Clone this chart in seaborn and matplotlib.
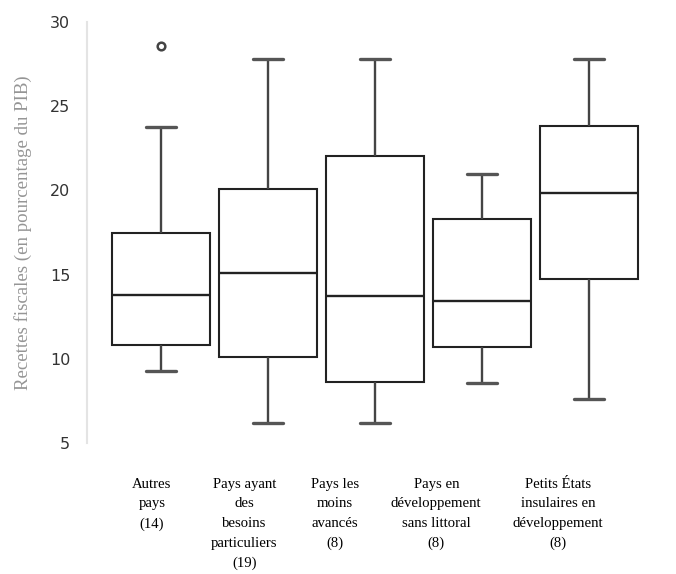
import numpy as np
import pandas as pd
import matplotlib
matplotlib.use("Agg")
import matplotlib.pyplot as plt
import matplotlib.transforms as mtrans
import seaborn as sns

# ---- data ----
categories = [
    "Autres\npays\n(14)",
    "Pays ayant\ndes\nbesoins\nparticuliers\n(19)",
    "Pays les\nmoins\navancés\n(8)",
    "Pays en\ndéveloppement\nsans littoral\n(8)",
    "Petits États\ninsulaires en\ndéveloppement\n(8)",
]
whisker_low = [9.3, 6.2, 6.2, 8.55, 7.6]
q1 = [10.8, 10.1, 8.6, 10.7, 14.75]
median = [13.8, 15.1, 13.75, 13.45, 19.85]
q3 = [17.5, 20.1, 22.05, 18.3, 23.8]
whisker_high = [23.75, 27.8, 27.8, 21.0, 27.8]
outlier_cat = ["Autres\npays\n(14)"]
outlier_val = [28.55]
y_ticks = [5, 10, 15, 20, 25, 30]
y_label = "Recettes fiscales (en pourcentage du PIB)"

# long table: five-number summary per group
rows = []
for c, a, b, m, d, e in zip(categories, whisker_low, q1, median, q3, whisker_high):
    for v in (a, b, m, d, e):
        rows.append({"cat": c, "val": v})
df = pd.DataFrame(rows)
df_out = pd.DataFrame({"cat": outlier_cat, "val": outlier_val})

sns.set_style("white")
fig = plt.figure(figsize=(6.76, 5.74), dpi=100)
ax = fig.add_axes([87 / 676, 1 - 443 / 574, 566 / 676, 421 / 574])

line_col = "#222222"
sns.boxplot(
    data=df, x="cat", y="val", order=categories, ax=ax,
    whis=(0, 100), showfliers=False, width=0.92,
    color="white", linecolor=line_col, linewidth=1.5,
    capwidths=0.28,
    whiskerprops=dict(color="#444444", linewidth=1.7),
    capprops=dict(color="#555555", linewidth=2.4),
    medianprops=dict(color=line_col, linewidth=1.7),
)
sns.stripplot(
    data=df_out, x="cat", y="val", order=categories, ax=ax,
    jitter=False, marker="o", size=5.5, color="white",
    edgecolor="#444444", linewidth=1.8, zorder=5,
)

ax.set_ylim(5, 30)
ax.set_xlim(-0.69, 4.6)
ax.set_yticks(y_ticks)
ax.set_yticklabels([str(t) for t in y_ticks])
ax.set_xlabel("")
ax.set_ylabel(y_label, fontfamily="Liberation Serif", color="#959595", fontsize=13.6)
ax.yaxis.set_label_coords(-0.097, 0.5)

for s in ("top", "right", "bottom"):
    ax.spines[s].set_visible(False)
ax.spines["left"].set_color("#e4e4e4")
ax.spines["left"].set_linewidth(1.5)

ax.tick_params(axis="y", length=0, pad=12, labelsize=11.5, labelcolor="#333333")
ax.tick_params(axis="x", length=0, pad=25)
ax.set_xticks(range(len(categories)))
ax.set_xticklabels(categories, fontfamily="Liberation Serif", fontsize=10.6, color="black")

offsets_px = [-9, -23.5, -40, -45.5, -30.5]
for lab, dx in zip(ax.get_xticklabels(), offsets_px):
    lab.set_linespacing(1.66)
    lab.set_multialignment("center")
    lab.set_transform(lab.get_transform() + mtrans.ScaledTranslation(dx / 100, 0, fig.dpi_scale_trans))

fig.savefig("out.png", dpi=100, facecolor="white")
